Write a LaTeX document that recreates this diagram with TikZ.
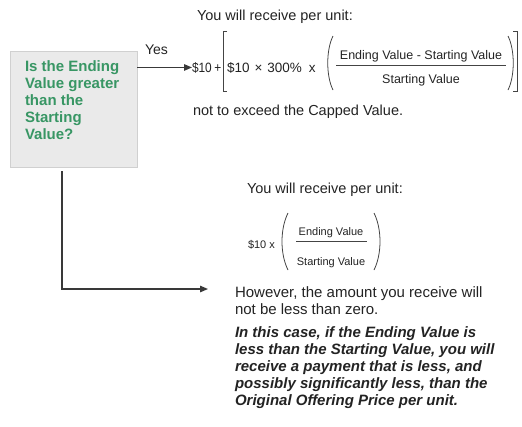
\documentclass[tikz,border=0pt]{standalone}
\usepackage{fontspec}
\setmainfont{Liberation Sans}
\usetikzlibrary{arrows.meta}
\definecolor{qgreen}{RGB}{56,150,100}
\definecolor{boxfill}{RGB}{234,234,234}
\definecolor{boxline}{RGB}{208,208,208}
\definecolor{ink}{RGB}{35,35,35}
\begin{document}
\begin{tikzpicture}[x=1pt,y=-1pt,
  every node/.style={inner sep=0pt, outer sep=0pt, text=ink},
  qbox/.style={draw=boxline, fill=boxfill, line width=1pt},
  qtext/.style={text=qgreen, font=\fontsize{15}{17}\selectfont\bfseries, align=left},
  body/.style={font=\fontsize{15}{17}\selectfont, align=left},
  warn/.style={font=\fontsize{15}{17}\selectfont\bfseries\itshape, align=left},
  head/.style={font=\fontsize{14.5}{17}\selectfont},
  fa/.style={font=\fontsize{13.5}{15}\selectfont},
  ffrac/.style={font=\fontsize{12.5}{15}\selectfont},
  fb/.style={font=\fontsize{11}{13}\selectfont},
  conn/.style={draw=ink!90, line width=1.3pt, -{Triangle[length=8pt,width=6.5pt]}},
  delim/.style={draw=ink!85, line width=0.8pt},
]
\useasboundingbox (0,0) rectangle (522,426);

% question box
\node[qbox, minimum width=127pt, minimum height=116pt, anchor=north west] (box) at (10,51) {};
\node[qtext, anchor=north west] (q) at (25,61) {Is the Ending\\Value greater\\than the\\Starting\\Value?};
\node[head, font=\fontsize{14}{17}\selectfont, anchor=base west] (yes) at (145,54) {Yes};

% upper result
\node[head, anchor=base west] (h1) at (197,20) {You will receive per unit:};
\node[fa, anchor=base west] (f1) at (192,72) {\scalebox{0.88}[1]{\$10\hspace{3pt}+}};
\node[fa, anchor=base west] (f1b) at (227,72) {\$10\hspace{5pt}\texttimes\hspace{5pt}300\%\hspace{7pt}x};
\node[ffrac, anchor=base] (n1) at (421,59) {Ending Value - Starting Value};
\node[ffrac, anchor=base] (d1) at (421,83) {Starting Value};
\draw[delim] (336,65) -- (506,65);
\draw[delim, line width=1pt] (227,31) -- (223,31) -- (223,91) -- (227,91);
\draw[delim] (333,36) .. controls (326,50) and (326,76) .. (333,90);
\draw[delim] (508,36) .. controls (515,50) and (515,76) .. (508,90);
\draw[delim, line width=1pt] (513,31) -- (517,31) -- (517,91) -- (513,91);
\node[head, anchor=base west] (cap) at (193,115) {not to exceed the Capped Value.};

% lower result
\node[head, anchor=base west] (h2) at (247,193) {You will receive per unit:};
\node[fb, anchor=base west] (f2) at (248,248) {\$10 x};
\node[fb, anchor=base] (n2) at (331,235) {Ending Value};
\node[fb, anchor=base] (d2) at (331,265) {Starting Value};
\draw[delim] (296,241) -- (367,241);
\draw[delim] (288,213) .. controls (280,229) and (280,254) .. (288,270);
\draw[delim] (374,213) .. controls (382,229) and (382,254) .. (374,270);
\node[body, anchor=north west] (note) at (235,287) {However, the amount you receive will\\not be less than zero.};
\node[warn, anchor=north west] (warning) at (235,327) {In this case, if the Ending Value is\\less than the Starting Value, you will\\receive a payment that is less, and\\possibly significantly less, than the\\Original Offering Price per unit.};

% connectors
\coordinate (turn) at (62,289);
\coordinate (tip2) at (208,289);
\draw[conn] (box.east |- f1.west) -- (f1.west);
\draw[conn, shorten <=4pt] (box.south -| turn) -- (turn) -- (tip2);
\end{tikzpicture}
\end{document}
